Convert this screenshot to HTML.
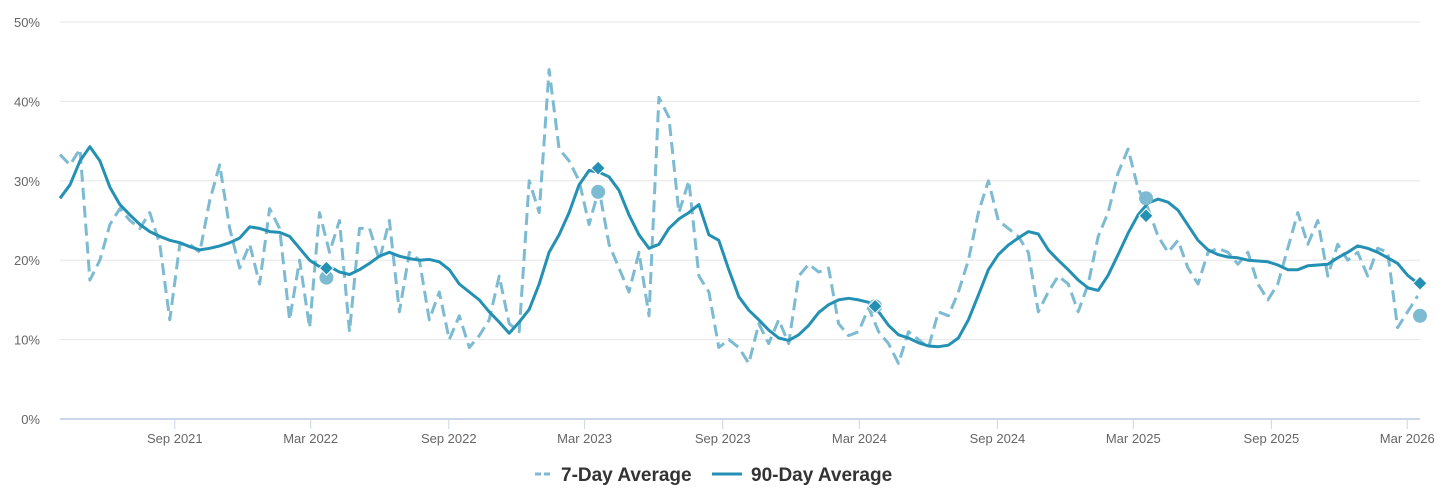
<!DOCTYPE html>
<html><head><meta charset="utf-8"><style>
body{margin:0;background:#fff;font-family:"Liberation Sans",Arial,sans-serif;}
svg text{font-family:"Liberation Sans",Arial,sans-serif;}
</style></head><body>
<svg id="chart" width="1446" height="496" xmlns="http://www.w3.org/2000/svg"></svg>
<script>
const startDate = '2021-04-01';
const endDate = '2026-03-18';
const stepDays = 13.3;
const yTicks = [0,10,20,30,40,50];
const xTickDates = ['2021-09-01','2022-03-01','2022-09-01','2023-03-01','2023-09-01','2024-03-01','2024-09-01','2025-03-01','2025-09-01','2026-03-01'];
const xTickLabels = ['Sep 2021','Mar 2022','Sep 2022','Mar 2023','Sep 2023','Mar 2024','Sep 2024','Mar 2025','Sep 2025','Mar 2026'];
const avg90 = [27.8,29.5,32.5,34.3,32.5,29.2,27.0,25.7,24.5,23.6,23.0,22.5,22.2,21.7,21.3,21.5,21.8,22.2,22.8,24.2,24.0,23.6,23.5,23.0,21.5,20.0,19.2,19.2,18.5,18.2,18.8,19.6,20.5,21.0,20.5,20.2,20.0,20.1,19.8,18.8,17.0,16.0,15.0,13.5,12.2,10.8,12.2,13.8,17.0,21.0,23.2,26.0,29.5,31.3,31.1,30.5,28.8,25.7,23.2,21.5,22.0,24.0,25.2,26.0,27.0,23.2,22.5,18.8,15.4,13.7,12.5,11.2,10.2,9.9,10.6,11.8,13.4,14.4,15.0,15.2,15.0,14.7,13.5,11.8,10.6,10.2,9.6,9.2,9.1,9.3,10.2,12.5,15.6,18.8,20.7,21.9,22.8,23.6,23.3,21.3,20.0,18.8,17.5,16.5,16.2,18.1,20.7,23.4,25.7,27.2,27.7,27.3,26.3,24.4,22.5,21.3,20.7,20.4,20.3,20.0,19.9,19.8,19.4,18.8,18.8,19.3,19.4,19.5,20.3,21.0,21.8,21.5,21.0,20.3,19.6,18.1,17.1];
const avg7 = [33.3,32.0,34.0,17.5,20.0,24.5,26.5,25.0,24.0,26.0,22.0,12.5,22.0,22.0,21.0,27.5,32.0,24.0,19.0,22.0,17.0,26.5,24.0,12.5,20.0,11.5,26.0,21.0,25.0,11.0,24.0,24.0,20.0,25.0,13.5,21.0,20.0,12.5,16.0,10.0,13.0,9.0,10.5,12.5,18.0,12.0,11.0,30.0,26.0,44.0,34.0,32.5,30.0,24.5,29.0,22.0,19.0,16.0,21.0,13.0,40.5,38.0,26.0,30.0,18.0,16.0,9.0,10.0,9.0,7.0,12.0,9.5,12.5,9.5,18.0,19.5,18.5,19.0,12.0,10.5,11.0,14.0,11.0,9.5,7.0,11.0,10.0,9.0,13.5,13.0,16.0,20.0,26.0,30.0,25.0,24.0,23.0,21.0,13.5,16.0,18.0,17.0,13.5,17.0,23.0,26.0,31.0,34.0,29.0,26.5,23.0,21.0,22.5,19.0,17.0,21.0,21.5,21.0,19.5,21.0,17.0,15.0,17.0,21.5,26.0,22.0,25.0,18.0,22.0,20.0,21.0,18.0,21.5,21.0,11.5,13.5,15.5];
const markerDates = ['2022-03-22','2023-03-19','2024-03-22','2025-03-18','2026-03-18'];
const marker90 = [19.0,31.6,14.2,25.6,17.1];
const marker7 = [17.8,28.6,14.2,27.8,13.0];

const NS='http://www.w3.org/2000/svg';
const svg=document.getElementById('chart');
const X0=60,X1=1420,Y0=419,Y1=22;
const dayOf=d=>(new Date(d)-new Date(startDate))/86400000;
const maxDay=dayOf(endDate);
const xs=d=>X0+(d/maxDay)*(X1-X0);
const ys=v=>Y0-(v/50)*(Y0-Y1);
function mk(tag,attrs){const e=document.createElementNS(NS,tag);for(const k in attrs)e.setAttribute(k,attrs[k]);svg.appendChild(e);return e;}

yTicks.forEach(t=>{
  const g=mk('line',{x1:X0,x2:X1,y1:ys(t),y2:ys(t),stroke:t===0?'#ccd6eb':'#e6e6e6','stroke-width':t===0?2:1});
  
  
  const tx=mk('text',{x:40,y:ys(t)+5,'text-anchor':'end','font-size':13,fill:'#666'});
  tx.textContent=t+'%';
  
  
});
xTickDates.forEach((d,i)=>{
  const x=xs(dayOf(d));
  const tk=mk('line',{x1:x,x2:x,y1:Y0,y2:Y0+10,stroke:'#ccd6eb','stroke-width':1});
  
  
  const tx=mk('text',{x:x,y:443,'text-anchor':'middle','font-size':13,fill:'#666'});
  tx.textContent=xTickLabels[i];
  
  
});
function path(vals,attrs,name){
  const d=vals.map((v,i)=>(i?'L':'M')+xs(Math.min(i*stepDays,maxDay)).toFixed(1)+','+ys(v).toFixed(1)).join('');
  const p=mk('path',Object.assign({d:d,fill:'none','stroke-linejoin':'round'},attrs));
  
  
}
path(avg7,{stroke:'#7dbbd2','stroke-width':3,'stroke-dasharray':'12,6'},'series-7-day-average');
path(avg90,{stroke:'#2490b3','stroke-width':3},'series-90-day-average');
markerDates.forEach((d,i)=>{
  const x=xs(dayOf(d));
  const c=mk('circle',{cx:x,cy:ys(marker7[i]),r:7,fill:'#7dbbd2'});
  
  
  const y=ys(marker90[i]);
  const dm=mk('path',{d:`M${x},${y-7}L${x+7},${y}L${x},${y+7}L${x-7},${y}Z`,fill:'#2490b3',stroke:'#fff','stroke-width':1});
  
  
});
const lg1=mk('line',{x1:535,x2:550,y1:474,y2:474,stroke:'#7dbbd2','stroke-width':3,'stroke-dasharray':'6,3'});


const lt1=mk('text',{x:561,y:481,'font-size':19,'font-weight':'bold',fill:'#333'});
lt1.textContent='7-Day Average';


const lg2=mk('line',{x1:712,x2:742,y1:474,y2:474,stroke:'#2490b3','stroke-width':3});


const lt2=mk('text',{x:751,y:481,'font-size':19,'font-weight':'bold',fill:'#333'});
lt2.textContent='90-Day Average';


</script>
</body></html>
